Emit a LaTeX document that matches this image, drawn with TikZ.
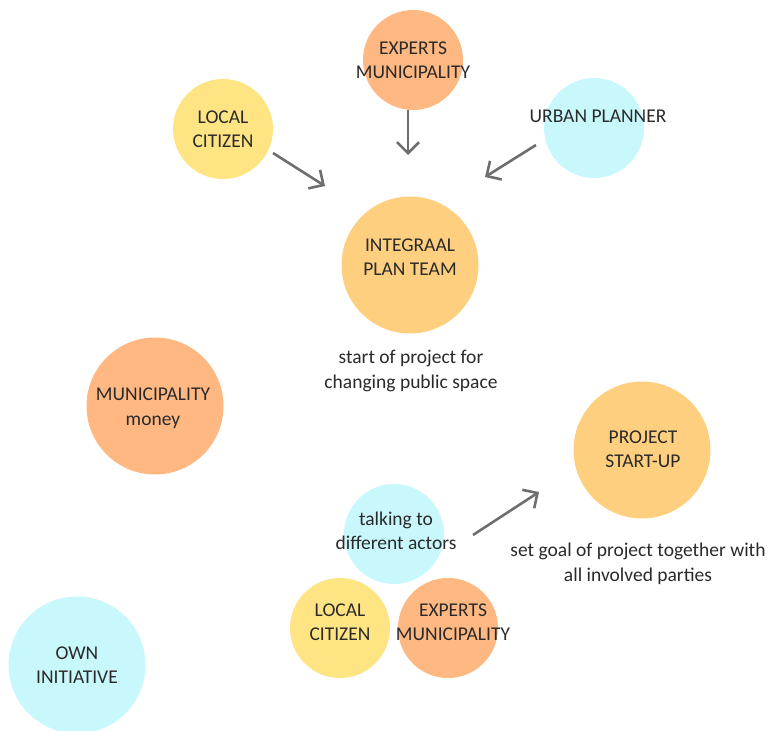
\documentclass[tikz,border=0pt]{standalone}
\usepackage{fontspec}
\setmainfont{Carlito}
\usetikzlibrary{arrows.meta}
\definecolor{cOrange}{HTML}{FFB882}
\definecolor{cYellow}{HTML}{FFE484}
\definecolor{cCyan}{HTML}{C8F7FC}
\definecolor{cGold}{HTML}{FFCF80}
\definecolor{cText}{HTML}{2A2A2A}
\definecolor{cArrow}{HTML}{6E6E6E}
\tikzset{
  small/.style={circle, draw=none, minimum size=100pt, inner sep=0pt},
  big/.style={circle, draw=none, minimum size=137pt, inner sep=0pt},
  lbl/.style={align=center, text=cText, inner sep=0pt,
    font=\fontsize{19.5}{24.5}\selectfont},
  flow/.style={draw=cArrow, line width=2.6pt,
    -{Straight Barb[length=11pt, width=22pt, line width=2.6pt]}},
}
\begin{document}
\begin{tikzpicture}[x=1pt, y=-1pt]
\useasboundingbox (0,0) rectangle (769,731);

% top cluster
\node[small, fill=cOrange] (expT) at (413,60) {};
\node[lbl] (expTl) at (413,60) {EXPERTS\\MUNICIPALITY};
\node[small, fill=cYellow] (citT) at (223,129) {};
\node[lbl] (citTl) at (223,129) {LOCAL\\CITIZEN};
\node[small, fill=cCyan] (urb) at (594,128) {};
\node[lbl] (urbl) at (598,128) {URBAN PLANNER\\~};
\node[big, fill=cGold] (ipt) at (410,265) {};
\node[lbl] (iptl) at (410,257) {INTEGRAAL\\PLAN TEAM};
\node[lbl] (start) at (411,371) {start of project for\\changing public space};

% left column
\node[big, fill=cOrange] (mon) at (155,406) {};
\node[lbl] (monl) at (153,408) {MUNICIPALITY\\money};
\node[big, fill=cCyan] (own) at (77,665) {};
\node[lbl] (ownl) at (77,665) {OWN\\INITIATIVE};

% bottom cluster
\node[big, fill=cGold] (psu) at (642,450) {};
\node[lbl] (psul) at (643,449) {PROJECT\\START-UP};
\node[lbl] (goal) at (638,564) {set goal of project together with\\all involved parties};
\node[small, fill=cCyan] (talk) at (394,534) {};
\node[lbl] (talkl) at (396,531) {talking to\\different actors};
\node[small, fill=cYellow] (citB) at (340,628) {};
\node[lbl] (citBl) at (340,622) {LOCAL\\CITIZEN};
\node[small, fill=cOrange] (expB) at (448,628) {};
\node[lbl] (expBl) at (453,622) {EXPERTS\\MUNICIPALITY};

% connector ends
\coordinate (a1s) at (408,110);
\coordinate (a1e) at (408,155);
\coordinate (a2s) at (273,153);
\coordinate (a2e) at (325,186);
\coordinate (a3s) at (536,145);
\coordinate (a3e) at (485,177);
\coordinate (a4s) at (473,535);
\coordinate (a4e) at (539,492);

\draw[flow] (a1s) -- (a1e);
\draw[flow] (a2s) -- (a2e);
\draw[flow] (a3s) -- (a3e);
\draw[flow] (a4s) -- (a4e);
\end{tikzpicture}
\end{document}
